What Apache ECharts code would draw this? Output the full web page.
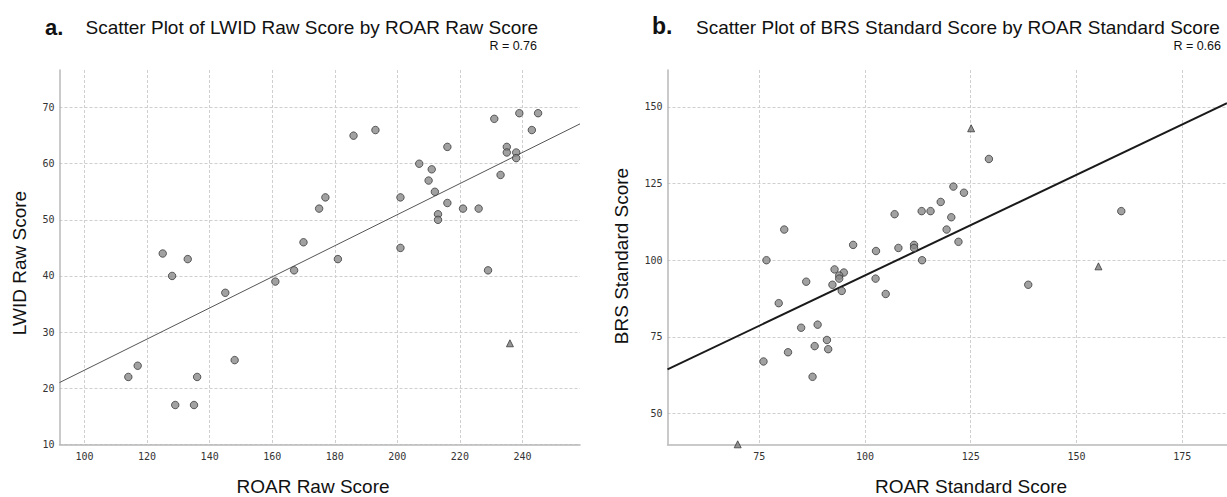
<!DOCTYPE html>
<html><head><meta charset="utf-8">
<script src="https://cdn.jsdelivr.net/npm/echarts@6/dist/echarts.min.js"></script>
<style>html,body{margin:0;padding:0;background:#fff}#c{width:1227px;height:497px}</style>
</head><body><div id="c"></div>
<script>
// ---- Panel a: LWID Raw Score by ROAR Raw Score ----
const roarRawX = [186,193,231,239,245,243,235,235,238,238,233,216,207,211,210,212,216,221,226,213,213,201,175,177,170,201,125,133,128,181,167,229,161,145,148,117,114,136,129,135];
const lwidRawY = [65,66,68,69,69,66,63,62,62,61,58,63,60,59,57,55,53,52,52,51,50,54,52,54,46,45,44,43,40,43,41,41,39,37,25,24,22,22,17,17];
const roarRawTriX = [236];
const lwidRawTriY = [28];
const fitA = [[92,21.0],[258.4,67.1]];
const xTicksA = [100,120,140,160,180,200,220,240];
const yTicksA = [10,20,30,40,50,60,70];

// ---- Panel b: BRS Standard Score by ROAR Standard Score ----
const roarStdX = [129.3,120.9,123.4,117.9,113.4,115.5,107.0,120.4,160.6,119.3,80.9,122.1,97.2,102.6,107.9,111.6,111.6,76.7,113.5,92.8,95.0,93.9,93.9,102.5,86.1,92.3,138.6,94.5,104.9,79.6,84.9,88.8,91.0,88.1,91.3,81.8,76.0,87.6];
const brsStdY = [133,124,122,119,116,116,115,114,116,110,110,106,105,103,104,105,104,100,100,97,96,95,94,94,93,92,92,90,89,86,78,79,74,72,71,70,67,62];
const roarStdTriX = [125.1,155.2,69.9];
const brsStdTriY = [143,98,40];
const fitB = [[53.3,64.4],[185.6,151.2]];
const xTicksB = [75,100,125,150,175];
const yTicksB = [50,75,100,125,150];

const zip = (a,b) => a.map((v,i)=>[v,b[i]]);

const tickFont = {fontFamily:'DejaVu Sans Mono', fontSize:10, color:'#333'};
function mkX(grid, min, max, ticks){
  return {type:'value', gridIndex:grid, min:min, max:max,
    axisLine:{show:true, onZero:false, lineStyle:{color:'#b8b8b8', width:1.5}},
    axisTick:{show:false, customValues:ticks},
    axisLabel:Object.assign({customValues:ticks, margin:7}, tickFont),
    splitLine:{show:true, lineStyle:{color:'#cfcfcf', type:[3,2], width:1}}};
}
function mkY(grid, min, max, ticks){
  return {type:'value', gridIndex:grid, min:min, max:max,
    axisLine:{show:true, onZero:false, lineStyle:{color:'#b8b8b8', width:1.5}},
    axisTick:{show:false, customValues:ticks},
    axisLabel:Object.assign({customValues:ticks, margin:5}, tickFont),
    splitLine:{show:true, lineStyle:{color:'#cfcfcf', type:[3,2], width:1}}};
}
const circStyle = {color:'#8a8a8a', borderColor:'#2e2e2e', borderWidth:0.9};
const triStyle = {color:'#7a7a7a', borderColor:'#2e2e2e', borderWidth:0.9};

const txt = (text, x, y, font, align, rot) => ({type:'text', x:x, y:y, rotation:rot||0,
  style:{text:text, font:font, fill:'#111', textAlign:align||'left', textVerticalAlign:'middle'}});

const chart = echarts.init(document.getElementById('c'), null, {renderer:'svg'});
chart.setOption({
  animation:false,
  grid:[
    {left:59.5, top:70, width:520.5, height:374.3},
    {left:667.5, top:70, width:559.5, height:374.3}
  ],
  xAxis:[mkX(0,92,258.4,xTicksA), mkX(1,53.3,185.6,xTicksB)],
  yAxis:[mkY(0,10,76.7,yTicksA), mkY(1,40,162,yTicksB)],
  series:[
    {type:'line', xAxisIndex:0, yAxisIndex:0, data:fitA, symbol:'none', lineStyle:{color:'#555', width:1}, z:1},
    {type:'scatter', xAxisIndex:0, yAxisIndex:0, data:zip(roarRawX,lwidRawY), symbol:'circle', symbolSize:7.5, itemStyle:circStyle, z:3},
    {type:'scatter', xAxisIndex:0, yAxisIndex:0, data:zip(roarRawTriX,lwidRawTriY), symbol:'triangle', symbolSize:7, itemStyle:triStyle, z:3},
    {type:'line', xAxisIndex:1, yAxisIndex:1, data:fitB, symbol:'none', lineStyle:{color:'#1a1a1a', width:2}, z:1},
    {type:'scatter', xAxisIndex:1, yAxisIndex:1, data:zip(roarStdX,brsStdY), symbol:'circle', symbolSize:7.5, itemStyle:circStyle, z:3},
    {type:'scatter', xAxisIndex:1, yAxisIndex:1, data:zip(roarStdTriX,brsStdTriY), symbol:'triangle', symbolSize:7, itemStyle:triStyle, z:3}
  ],
  graphic:[
    txt('a.', 45, 27, 'bold 22px "Liberation Sans"'),
    txt('Scatter Plot of LWID Raw Score by ROAR Raw Score', 85.5, 27, '19px "Liberation Sans"'),
    txt('R = 0.76', 537, 45.5, '12.5px "Liberation Sans"', 'right'),
    txt('b.', 652, 26, 'bold 23px "Liberation Sans"'),
    txt('Scatter Plot of BRS Standard Score by ROAR Standard Score', 696, 27, '19px "Liberation Sans"'),
    txt('R = 0.66', 1221, 45.5, '12.5px "Liberation Sans"', 'right'),
    txt('LWID Raw Score', 19, 263, '19px "Liberation Sans"', 'center', Math.PI/2),
    txt('BRS Standard Score', 621, 256, '19px "Liberation Sans"', 'center', Math.PI/2),
    txt('ROAR Raw Score', 313, 486, '19px "Liberation Sans"', 'center'),
    txt('ROAR Standard Score', 971, 486, '19px "Liberation Sans"', 'center')
  ]
});
</script></body></html>
